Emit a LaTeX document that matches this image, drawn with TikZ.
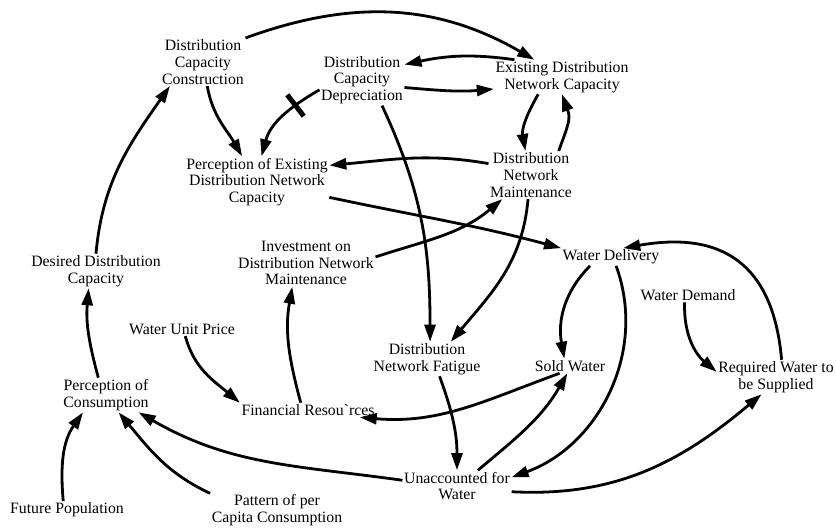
\documentclass[tikz,border=0pt]{standalone}
\usepackage{fontspec}
\setmainfont{Liberation Serif}
\usetikzlibrary{arrows.meta}
\tikzset{
  valt/.style={align=center,inner sep=1.5pt},
  ok/.style={-{Triangle[length=17pt,width=11pt]},line width=2.8pt},
  kes/.style={fill,inner sep=0pt,minimum width=5pt,minimum height=27pt},
}

\begin{document}
\begin{tikzpicture}[x=1pt,y=1pt,font=\fontsize{15.8}{16.8}\selectfont]
  \useasboundingbox (0,0) rectangle (836,-530);
  % variables
  \node[valt] (dcc) at (203,-62) {Distribution\\Capacity\\Construction};
  \node[valt] (dcd) at (362,-80) {Distribution\\Capacity\\Depreciation};
  \node[valt] (ednc) at (562,-77) {Existing Distribution\\Network Capacity};
  \node[valt] (pednc) at (257,-182) {Perception of Existing\\Distribution Network\\Capacity};
  \node[valt] (dnm) at (531,-175) {Distribution\\Network\\Maintenance};
  \node[valt] (idnm) at (306,-263) {Investment on\\Distribution Network\\Maintenance};
  \node[valt] (wd) at (611,-257) {Water Delivery};
  \node[valt] (ddc) at (96,-271) {Desired Distribution\\Capacity};
  \node[valt] (wup) at (182,-329) {Water Unit Price};
  \node[valt] (wdm) at (688,-295) {Water Demand};
  \node[valt] (dnf) at (427,-359) {Distribution\\Network Fatigue};
  \node[valt] (sw) at (570,-366) {Sold Water};
  \node[valt] (rws) at (776,-377) {Required Water to\\be Supplied};
  \node[valt] (pc) at (106,-395) {Perception of\\Consumption};
  \node[valt] (fr) at (308,-410) {Financial Resou\textasciigrave{}rces};
  \node[valt] (uw) at (457,-486) {Unaccounted for\\Water};
  \node[valt] (fp) at (67,-510) {Future Population};
  \node[valt] (ppc) at (277,-510) {Pattern of per\\Capita Consumption};
  % capacity loop
  \draw[ok] (dcc.north east) to[out=20,in=150] (ednc.148);
  \draw[ok] (ednc.160) to[out=172,in=12] (dcd.20);
  \draw[ok] (dcd.-10) to[out=-5,in=185] (ednc.190);
  \draw[ok] (dcc.-80) to[out=-80,in=120] (pednc.120);
  \draw[ok] (dcd.193) to[out=210,in=75] node[kes,pos=0.3,sloped] (lag) {} (pednc.80);
  \draw[ok] (dnm.165) to[out=170,in=5] (pednc.13);
  \draw[ok] (ednc.216) to[out=-120,in=100] (dnm.103);
  \draw[ok] (dnm.41) to[out=70,in=-70,looseness=1.2] (ednc.-90);
  \draw[ok] (pednc.-12) to[out=-12,in=165] (wd.north west);
  \draw[ok] (idnm.5) to[out=18,in=220] (dnm.220);
  \draw[ok] (dcd.-52) to[out=-65,in=90] (dnf.80);
  \draw[ok] (dnm.-97) to[out=-95,in=50] (dnf.36);
  % water
  \draw[ok] (wd.203) to[out=-135,in=100] (sw.128);
  \draw[ok] (wd.-60) to[out=-70,in=20] (uw.9);
  \draw[ok] (rws.72) to[out=95,in=10,looseness=1.3] (wd.36);
  \draw[ok] (wdm.-115) to[out=-92,in=140] (rws.175);
  \draw[ok] (dnf.-54) to[out=-70,in=90] (uw.north);
  \draw[ok] (uw.37) to[out=40,in=240] (sw.-110);
  \draw[ok] (sw.215) to[out=200,in=-5] (fr.-8);
  \draw[ok] (uw.-6) to[out=-3,in=220] (rws.230);
  \draw[ok] (uw.174) to[out=172,in=-30] (pc.-28);
  % finance and consumption
  \draw[ok] (wup.-65) to[out=-75,in=140] (fr.north west);
  \draw[ok] (fr.135) to[out=105,in=-100] (idnm.-120);
  \draw[ok] (pc.114) to[out=105,in=-95] (ddc.-113);
  \draw[ok] (ddc.north) to[out=85,in=235] (dcc.216);
  \draw[ok] (fp.113) to[out=95,in=235] (pc.217);
  \draw[ok] (ppc.166) to[out=155,in=-50] (pc.-54);
\end{tikzpicture}
\end{document}
